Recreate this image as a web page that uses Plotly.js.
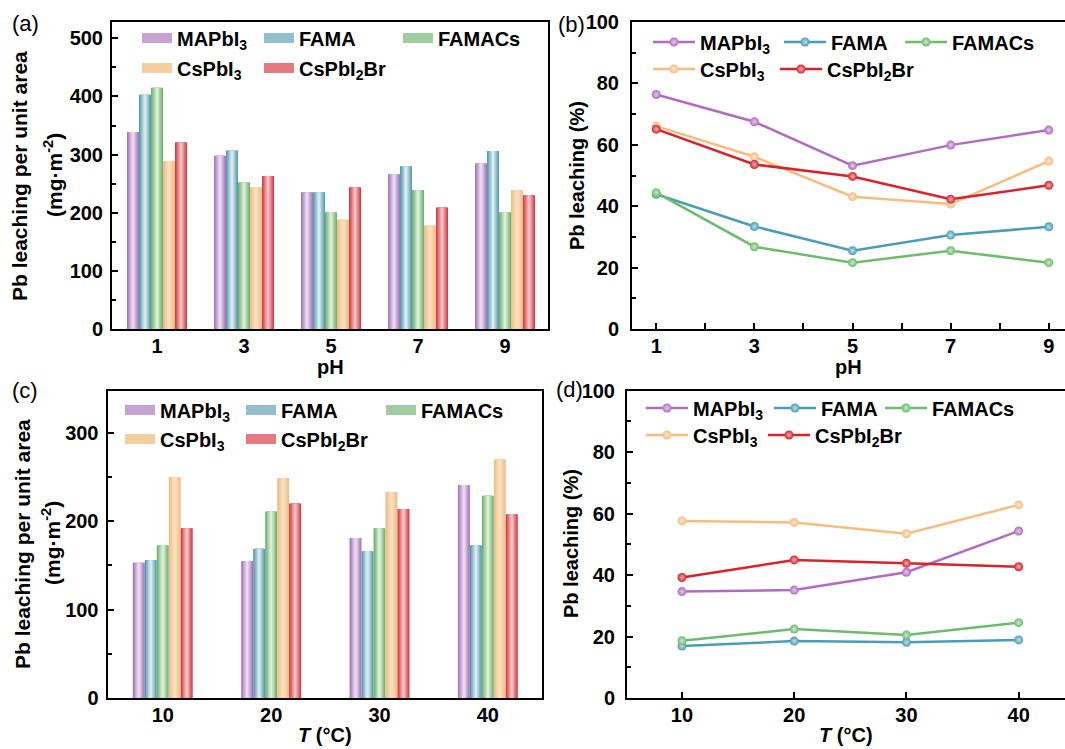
<!DOCTYPE html>
<html><head><meta charset="utf-8">
<script src="https://cdn.plot.ly/plotly-3.0.1.min.js"></script>
<style>html,body{margin:0;padding:0;background:#fff}#chart{width:1065px;height:749px}</style>
</head><body><div id="chart"></div>
<script>
// ---------------- data ----------------
const seriesNames = ['MAPbI<sub>3</sub>','FAMA','FAMACs','CsPbI<sub>3</sub>','CsPbI<sub>2</sub>Br'];
const pHLabels = ['1','3','5','7','9'];
const pHValues = [1,3,5,7,9];
const tempLabels = ['10','20','30','40'];
const tempValues = [10,20,30,40];

// (a) Pb leaching per unit area vs pH (mg m^-2)
const areaPH_MAPbI3   = [339,298,235,266,285];
const areaPH_FAMA     = [403,307,235,280,306];
const areaPH_FAMACs   = [415,252,201,239,201];
const areaPH_CsPbI3   = [289,244,188,178,239];
const areaPH_CsPbI2Br = [321,263,244,209,230];

// (b) Pb leaching (%) vs pH
const pctPH_MAPbI3   = [76.4,67.5,53.2,59.9,64.8];
const pctPH_FAMA     = [43.9,33.4,25.5,30.6,33.3];
const pctPH_FAMACs   = [44.4,26.8,21.6,25.5,21.6];
const pctPH_CsPbI3   = [66.1,56.1,43.1,40.7,54.7];
const pctPH_CsPbI2Br = [65.1,53.6,49.7,42.3,46.8];

// (c) Pb leaching per unit area vs T (mg m^-2)
const areaT_MAPbI3   = [153,155,181,241];
const areaT_FAMA     = [156,169,166,173];
const areaT_FAMACs   = [173,211,192,229];
const areaT_CsPbI3   = [250,249,233,270];
const areaT_CsPbI2Br = [192,220,214,208];

// (d) Pb leaching (%) vs T
const pctT_MAPbI3   = [34.6,35.1,40.9,54.3];
const pctT_FAMA     = [16.9,18.5,18.1,18.9];
const pctT_FAMACs   = [18.6,22.4,20.5,24.5];
const pctT_CsPbI3   = [57.6,57.1,53.4,62.8];
const pctT_CsPbI2Br = [39.2,44.9,43.8,42.7];

// ---------------- styles ----------------
const W = 1065, H = 749;
const F = '"Liberation Sans", Arial, Helvetica, sans-serif';
const barEdge   = ['#a877bb','#5a9cb0','#72b272','#f0bf88','#d63f48'];
const barCenter = ['#e8d9ee','#d8eaef','#d8eed5','#f9dfc0','#f5c0c2'];
const lineColors = ['#b06cc0','#4a9eb4','#6dbb6d','#f7bd80','#d9222b'];

function hex2rgb(h){h=h.replace('#','');return [0,2,4].map(i=>parseInt(h.substr(i,2),16));}
function mix(c1,c2,t){const a=hex2rgb(c1),b=hex2rgb(c2);return 'rgb('+a.map((v,i)=>Math.round(v+(b[i]-v)*t)).join(',')+')';}

const px = p => p / W;
const py = p => 1 - p / H;

const traces = [];
const layoutLegends = {};
let legendCount = 0;
function newLegend(xp, yp, iw){
  legendCount += 1;
  const key = legendCount === 1 ? 'legend' : 'legend' + legendCount;
  layoutLegends[key] = {x:px(xp), y:py(yp), xanchor:'left', yanchor:'middle', orientation:'h',
    bgcolor:'rgba(0,0,0,0)', borderwidth:0, itemwidth: iw, tracegroupgap:0,
    font:{family:F, size:20, weight:'bold', color:'#000'}, itemclick:false, itemdoubleclick:false};
  return key;
}

// legend item positions (symbol left edge px, row centre px)
function addBars(cats, valuesList, xa, ya, groupW, legPos){
  const bw = groupW / valuesList.length;
  const fracs = [1, 0.8, 0.6, 0.4, 0.2];
  valuesList.forEach((vals, i) => {
    const base = -groupW/2 + i*bw;
    fracs.forEach((f, k) => {
      const w = bw * f;
      traces.push({type:'bar', x:cats, y:vals, xaxis:xa, yaxis:ya,
        width:w, offset: base + (bw - w)/2,
        marker:{color: mix(barEdge[i], barCenter[i], k/(fracs.length-1)), line:{width:0}},
        showlegend:false, hoverinfo:'skip'});
    });
    const lg = newLegend(legPos[i][0] - 5, legPos[i][1], 30);
    traces.push({type:'scatter', mode:'lines', x:[null], y:[null], xaxis:xa, yaxis:ya,
      name: seriesNames[i], legend: lg,
      line:{color: mix(barEdge[i], barCenter[i], 0.45), width:14}, hoverinfo:'skip'});
  });
}

function addLines(xs, valuesList, xa, ya, legPos){
  valuesList.forEach((vals, i) => {
    const lg = newLegend(legPos[i][0] - 5, legPos[i][1], 42);
    traces.push({type:'scatter', mode:'lines+markers', x:xs, y:vals, xaxis:xa, yaxis:ya,
      name: seriesNames[i], legend: lg,
      line:{color: lineColors[i], width:2.5},
      marker:{size:9, color: lineColors[i], gradient:{type:'radial', color: mix(lineColors[i], '#ffffff', 0.65)}, line:{width:0}}});
  });
}

addBars(pHLabels, [areaPH_MAPbI3, areaPH_FAMA, areaPH_FAMACs, areaPH_CsPbI3, areaPH_CsPbI2Br], 'x', 'y', 0.69,
  [[142,38],[264,38],[403,38],[142,68],[264,68]]);
addLines(pHValues, [pctPH_MAPbI3, pctPH_FAMA, pctPH_FAMACs, pctPH_CsPbI3, pctPH_CsPbI2Br], 'x2', 'y2',
  [[653,42],[784,42],[905,42],[653,69],[780,69]]);
addBars(tempLabels, [areaT_MAPbI3, areaT_FAMA, areaT_FAMACs, areaT_CsPbI3, areaT_CsPbI2Br], 'x3', 'y3', 0.553,
  [[125,410],[246,410],[386,410],[125,439],[246,439]]);
addLines(tempValues, [pctT_MAPbI3, pctT_FAMA, pctT_FAMACs, pctT_CsPbI3, pctT_CsPbI2Br], 'x4', 'y4',
  [[646,408],[774,408],[885,408],[646,435],[768,435]]);

const tickFont = {family:F, size:20, weight:'bold', color:'#000'};
const base = {showline:true, linecolor:'#000', linewidth:2, mirror:true, showgrid:false, zeroline:false,
  tickfont:tickFont, ticks:'inside', tickcolor:'#000', tickwidth:2, ticklen:6, fixedrange:true};
const minorY = d => ({dtick:d, ticks:'inside', ticklen:4, tickwidth:2, tickcolor:'#000'});

const layout = Object.assign({
  width:W, height:H, margin:{l:0,r:0,t:0,b:0}, paper_bgcolor:'#fff', plot_bgcolor:'#fff',
  barmode:'overlay', showlegend:true, font:{family:F, color:'#000'},
  xaxis: Object.assign({}, base, {domain:[px(112), px(548)], anchor:'y', type:'category', range:[-0.517, 4.494], ticks:'', ticklabelstandoff:-2}),
  yaxis: Object.assign({}, base, {domain:[py(329), py(22)], anchor:'x', range:[0, 528], dtick:100, minor:minorY(50), ticklabelstandoff:3}),
  xaxis2: Object.assign({}, base, {domain:[px(632), 1], anchor:'y2', range:[0.506, 9.33], tickvals:pHValues, ticktext:pHLabels,
    minor:{dtick:1, ticks:'inside', ticklen:6, tickwidth:2, tickcolor:'#000'}, ticklabelstandoff:-2}),
  yaxis2: Object.assign({}, base, {domain:[py(329), py(22)], anchor:'x2', range:[0, 100], dtick:20, minor:minorY(10), ticklabelstandoff:7}),
  xaxis3: Object.assign({}, base, {domain:[px(107.5), px(541.5)], anchor:'y3', type:'category', range:[-0.51, 3.495], ticks:'', ticklabelstandoff:-2}),
  yaxis3: Object.assign({}, base, {domain:[py(698), py(390.5)], anchor:'x3', range:[0, 348], dtick:100, minor:minorY(50), ticklabelstandoff:3}),
  xaxis4: Object.assign({}, base, {domain:[px(627), 1], anchor:'y4', range:[5.1, 44.13], tickvals:tempValues, ticktext:tempLabels, ticklabelstandoff:-2}),
  yaxis4: Object.assign({}, base, {domain:[py(698), py(390.5)], anchor:'x4', range:[0, 100], dtick:20, minor:minorY(10), ticklabelstandoff:6}),
  annotations: [
    // panel labels
    {text:'(a)', x:25, y:23, size:22, bold:false},
    {text:'(b)', x:571, y:25, size:22, bold:false},
    {text:'(c)', x:25, y:390, size:22, bold:false},
    {text:'(d)', x:569, y:389, size:22, bold:false},
    // axis titles
    {text:'Pb leaching per unit area', x:20, y:176, size:21, angle:-90},
    {text:'(mg·m<sup>-2</sup>)', x:53, y:175, size:21, angle:-90},
    {text:'Pb leaching (%)', x:577, y:176, size:20, angle:-90},
    {text:'Pb leaching per unit area', x:22, y:544, size:21, angle:-90},
    {text:'(mg·m<sup>-2</sup>)', x:51, y:543, size:21, angle:-90},
    {text:'Pb leaching (%)', x:571, y:544, size:20, angle:-90},
    {text:'pH', x:330, y:367, size:20},
    {text:'pH', x:848, y:367, size:20},
    {text:'<i>T</i> (°C)', x:325, y:735, size:20},
    {text:'<i>T</i> (°C)', x:846, y:735, size:20}
  ].map(a => ({xref:'paper', yref:'paper', x:px(a.x), y:py(a.y), text:a.text, showarrow:false,
      xanchor:'center', yanchor:'middle', textangle:a.angle || 0,
      font:{family:F, size:a.size, weight: a.bold === false ? 'normal' : 'bold', color:'#000'}}))
}, layoutLegends);

Plotly.newPlot('chart', traces, layout, {displayModeBar:false, staticPlot:true});
</script></body></html>
